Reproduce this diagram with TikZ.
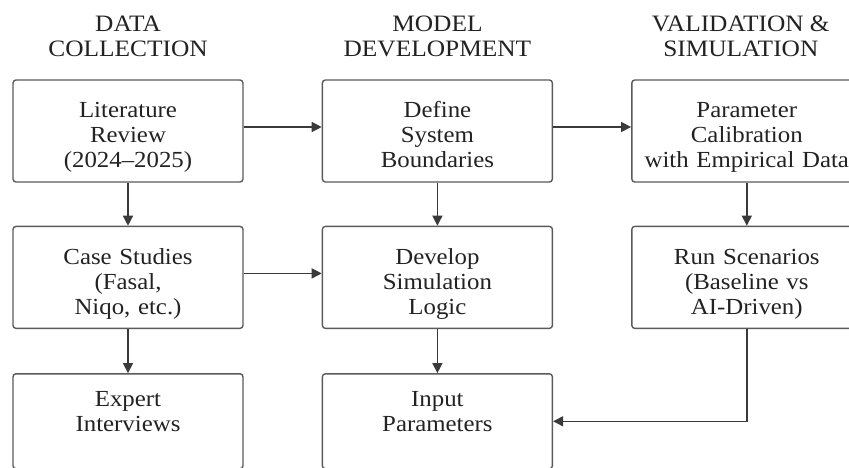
\documentclass[tikz,border=0pt]{standalone}
\usepackage{fontspec}
\setmainfont[FakeStretch=1.08]{Liberation Serif}
\usepackage{tikz}
\usetikzlibrary{arrows.meta,positioning}
\usepackage{xcolor}
\definecolor{boxgray}{HTML}{5A5A5A}
\definecolor{txtgray}{HTML}{222222}
\definecolor{linegray}{HTML}{3A3A3A}

\begin{document}
\begin{tikzpicture}[x=1pt,y=1pt,
  box/.style={draw=boxgray, line width=1.4pt, rounded corners=3pt, minimum width=230pt, minimum height=102pt, text width=222pt, align=center, font=\fontsize{23}{25}\selectfont, text=txtgray},
  threeline/.style={text height=29pt, text depth=55pt},
  twoline/.style={minimum height=95pt, text height=17pt, text depth=46pt},
  head/.style={align=center, inner sep=0pt, font=\fontsize{23.5}{25.5}\selectfont, text=txtgray},
  arr/.style={-{Triangle[length=10pt,width=10pt]}, line width=1.4pt, draw=linegray}]
\useasboundingbox (0,0) rectangle (849,-468);
\clip (0,0) rectangle (849,-468);

% first row
\node [box, threeline] (lit) at (128,-131) {Literature\\Review\\(2024--2025)};
\node [box, threeline, right=78pt of lit] (bound) {Define\\System\\Boundaries};
\node [box, threeline, right=78pt of bound] (calib) {Parameter\\Calibration\\with Empirical Data};

% second row
\node [box, threeline, below=43pt of lit] (case) {Case Studies\\(Fasal,\\Niqo, etc.)};
\node [box, threeline, below=43pt of bound] (logic) {Develop\\Simulation\\Logic};
\node [box, threeline, below=43pt of calib] (run) {Run Scenarios\\(Baseline vs\\AI-Driven)};

% third row
\node [box, twoline, below=44pt of case] (expert) {Expert\\Interviews};
\node [box, twoline, below=44pt of logic] (input) {Input\\Parameters};

% column titles
\node [head, above=22pt of lit] (h1) {DATA\\COLLECTION};
\node [head, above=22pt of bound] (h2) {MODEL\\DEVELOPMENT};
\node [head, above=22pt of calib, xshift=-6pt] (h3) {VALIDATION \&\\SIMULATION};

\draw [arr] ([yshift=4pt]lit.east) -- ([yshift=4pt]bound.west);
\draw [arr] ([yshift=4pt]bound.east) -- ([yshift=4pt]calib.west);
\draw [arr] ([yshift=4pt]case.east) -- ([yshift=4pt]logic.west);

\draw [arr] (lit) -- (case);
\draw [arr] (case) -- (expert);
\draw [arr] (bound) -- (logic);
\draw [arr] (logic) -- (input);
\draw [arr] (calib) -- (run);
\draw [arr] (run.south) |- (input.east);

\end{tikzpicture}
\end{document}
